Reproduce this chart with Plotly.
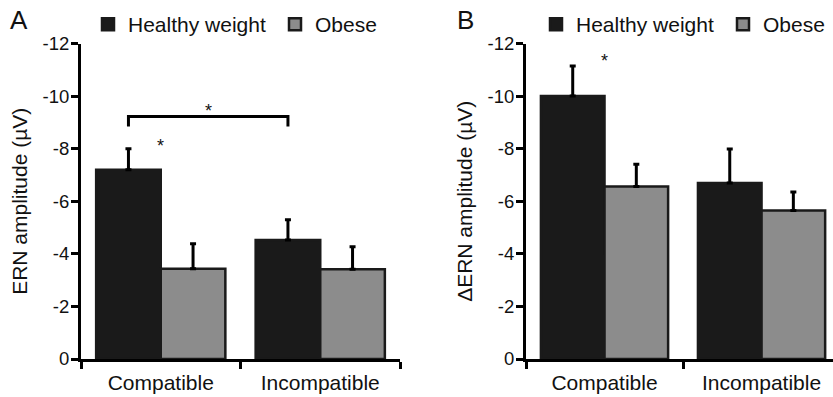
import plotly.graph_objects as go

categories = ["Compatible", "Incompatible"]
series_names = ["Healthy weight", "Obese"]

# Panel A: ERN amplitude (µV)
hw_a = [-7.2, -4.53]
hw_a_err = [0.8, 0.77]
ob_a = [-3.43, -3.41]
ob_a_err = [0.95, 0.86]

# Panel B: ΔERN amplitude (µV)
hw_b = [-10.0, -6.69]
hw_b_err = [1.14, 1.3]
ob_b = [-6.56, -5.65]
ob_b_err = [0.85, 0.7]

y_tickvals = [0, -2, -4, -6, -8, -10, -12]
y_ticktext = ["0", "-2", "-4", "-6", "-8", "-10", "-12"]

FONT = "Liberation Sans, Arial, Helvetica, sans-serif"
HW_COLOR = "#1a1a1a"
OB_COLOR = "#8c8c8c"
EDGE = "#1a1a1a"
TXT = "#111111"


def bar(x, y, err, name, color, xa, ya, legend):
    return go.Bar(
        x=x, y=y, name=name, xaxis=xa, yaxis=ya, legend=legend, showlegend=True,
        marker=dict(color=color, line=dict(color=EDGE, width=2.5)),
        error_y=dict(type="data", symmetric=False, array=[0] * len(err), arrayminus=err,
                     color="#000000", thickness=3, width=3),
    )


fig = go.Figure()
fig.add_trace(bar(categories, hw_a, hw_a_err, series_names[0], HW_COLOR, "x", "y", "legend"))
fig.add_trace(bar(categories, ob_a, ob_a_err, series_names[1], OB_COLOR, "x", "y", "legend"))
fig.add_trace(bar(categories, hw_b, hw_b_err, series_names[0], HW_COLOR, "x2", "y2", "legend2"))
fig.add_trace(bar(categories, ob_b, ob_b_err, series_names[1], OB_COLOR, "x2", "y2", "legend2"))

W, H = 833, 397
y_bottom = (H - 359) / H
y_top = (H - 43.5) / H

xaxis_common = dict(
    type="category", tickson="boundaries", ticks="outside", ticklen=7, tickwidth=3,
    tickcolor="#000", showline=True, linecolor="#000", linewidth=3, showgrid=False,
    zeroline=False, tickfont=dict(size=21, color=TXT, family=FONT), fixedrange=True,
    automargin=False, ticklabelstandoff=3,
)
yaxis_common = dict(
    range=[0, -12], tickmode="array", tickvals=y_tickvals, ticktext=y_ticktext,
    ticks="outside", ticklen=7, tickwidth=3, tickcolor="#000", showline=True,
    linecolor="#000", linewidth=3, showgrid=False, zeroline=False,
    tickfont=dict(size=18.5, color=TXT, family=FONT), automargin=False,
    ticklabelstandoff=-2,
    title=dict(font=dict(size=21, color=TXT, family=FONT), standoff=10),
)

legend_common = dict(orientation="h", xanchor="left", yanchor="middle", entrywidth=142,
                     entrywidthmode="pixels",
                     font=dict(size=21, family=FONT, color=TXT), bgcolor="rgba(0,0,0,0)")

fig.update_layout(
    width=W, height=H,
    margin=dict(l=0, r=0, t=0, b=0, autoexpand=False),
    paper_bgcolor="white", plot_bgcolor="white",
    font=dict(family=FONT, color=TXT),
    barmode="group", bargap=0.19, bargroupgap=0,
    xaxis=dict(domain=[81 / W, 400 / W], anchor="y", range=[-0.5, 1.5], **xaxis_common),
    xaxis2=dict(domain=[526 / W, 1.0], anchor="y2", range=[-0.5, 1.455], **xaxis_common),
    yaxis=dict(domain=[y_bottom, y_top], anchor="x", **yaxis_common),
    yaxis2=dict(domain=[y_bottom, y_top], anchor="x2", **yaxis_common),
    legend=dict(x=88 / W, y=(H - 24.5) / H, **legend_common),
    legend2=dict(x=536 / W, y=(H - 24.5) / H, **legend_common),
    showlegend=True,
)
fig.layout.yaxis.title.text = "ERN amplitude (µV)"
fig.layout.yaxis2.title.text = "ΔERN amplitude (µV)"

# Panel letters
fig.add_annotation(text="A", xref="paper", yref="paper", x=19 / W, y=(H - 20) / H,
                   showarrow=False, font=dict(size=26, family=FONT, color=TXT),
                   xanchor="center", yanchor="middle")
fig.add_annotation(text="B", xref="paper", yref="paper", x=465 / W, y=(H - 20) / H,
                   showarrow=False, font=dict(size=26, family=FONT, color=TXT),
                   xanchor="center", yanchor="middle")

# Significance bracket (panel A) between healthy-weight bars
bx0, bx1 = -0.2025, 0.7975
fig.add_shape(type="path", xref="x", yref="y",
              path=f"M {bx0},-8.84 L {bx0},-9.22 L {bx1},-9.22 L {bx1},-8.84",
              line=dict(color="#000", width=3))
star_font = dict(size=18, family=FONT, color=TXT)
fig.add_annotation(text="*", xref="x", yref="y", x=0.3, y=-9.45, showarrow=False,
                   font=star_font, yanchor="middle")
fig.add_annotation(text="*", xref="x", yref="y", x=0.0, y=-8.1, showarrow=False,
                   font=star_font, yanchor="middle")
fig.add_annotation(text="*", xref="x2", yref="y2", x=0.0, y=-11.33, showarrow=False,
                   font=star_font, yanchor="middle")

fig.write_html("out.html", config={"displayModeBar": False},
               post_script="document.body.style.margin='0px';")
